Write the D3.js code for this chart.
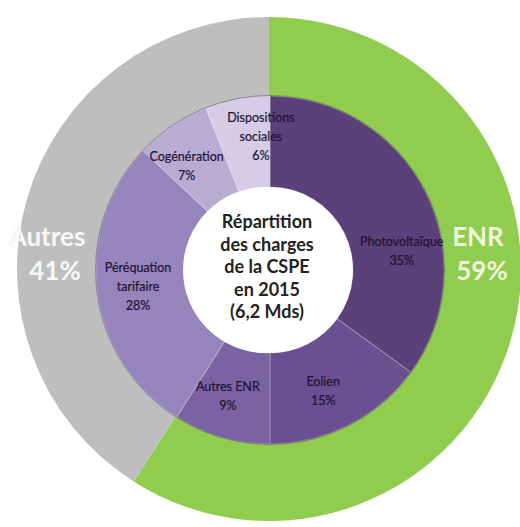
<!DOCTYPE html>
<html>
<head>
<meta charset="utf-8">
<script src="https://cdn.jsdelivr.net/npm/d3@7"></script>
<style>
  body { margin: 0; background: #fff; }
  svg { display: block; }
</style>
</head>
<body>
<div id="chart-area"></div>
<script>
// outer ring : ENR vs autres
var groups = ["ENR", "Autres"];
var groupValues = [59, 41];
var groupColors = ["#90cc4e", "#bebebe"];

// inner pie : detail of the charges
var parts = ["Photovoltaïque", "Eolien", "Autres ENR", "Péréquation tarifaire", "Cogénération", "Dispositions sociales"];
var partValues = [35, 15, 9, 28, 7, 6];
var partColors = ["#5b4079", "#6a5090", "#7a62a3", "#9684bc", "#b8acd2", "#d5cce5"];

// label lines for each part (break where the picture breaks)
var partLines = [["Photovoltaïque"], ["Eolien"], ["Autres ENR"], ["Péréquation", "tarifaire"], ["Cogénération"], ["Dispositions", "sociales"]];

var titleLines = ["Répartition", "des charges", "de la CSPE", "en 2015", "(6,2 Mds)"];

var width = 520, height = 527;
var cx = 269, cy = 269;

var svg = d3.select("#chart-area")
    .append("svg")
    .attr("width", width)
    .attr("height", height);

var pie = d3.pie().sort(null).value(function(d) { return d; });

// outer ring
var ringArc = d3.arc().innerRadius(170).outerRadius(252);
var ring = svg.append("g").attr("transform", "translate(" + cx + "," + cy + ")");
ring.selectAll("path")
    .data(pie(groupValues))
    .enter()
    .append("path")
    .attr("d", ringArc)
    .attr("fill", function(d, i) { return groupColors[i]; });

// inner pie
var partArc = d3.arc().innerRadius(83).outerRadius(174);
var inner = svg.append("g").attr("transform", "translate(" + (cx + 1) + "," + (cy + 1) + ")");
inner.selectAll("path")
    .data(pie(partValues))
    .enter()
    .append("path")
    .attr("d", partArc)
    .attr("fill", function(d, i) { return partColors[i]; })
    .attr("stroke", "rgba(255,255,255,0.25)")
    .attr("stroke-width", 1);
// thin shadow round the inner pie
inner.append("circle")
    .attr("r", 174.5)
    .attr("fill", "none")
    .attr("stroke", "#4b3b5e")
    .attr("stroke-opacity", 0.5)
    .attr("stroke-width", 1);

// white hole
inner.append("circle")
    .attr("cx", -4)
    .attr("r", 83)
    .attr("fill", "#fff");

// part labels
var labelR = 133;
var angleShift = [0.33, 0.06, 0.04, 0, -0.08, 0.12]; // radians, to sit like the picture
inner.selectAll("text.part")
    .data(pie(partValues))
    .enter()
    .append("text")
    .attr("class", "part")
    .attr("text-anchor", "middle")
    .attr("font-family", "Lato, 'Open Sans', sans-serif")
    .attr("font-size", "12.5px")
    .attr("fill", "#1e1236")
    .attr("stroke", "#1e1236")
    .attr("stroke-width", 0.2)
    .each(function(d, i) {
        var a = (d.startAngle + d.endAngle) / 2 + angleShift[i];
        var p = d3.pointRadial(a, labelR);
        var lines = partLines[i].concat([partValues[i] + "%"]);
        var t = d3.select(this);
        var y0 = p[1] - (lines.length - 1) * 19 / 2 + 4;
        lines.forEach(function(l, j) {
            t.append("tspan")
                .attr("x", p[0])
                .attr("y", y0 + j * 19)
                .text(l);
        });
    });

// ring labels
var ringLabels = svg.append("g")
    .attr("font-family", "Lato, 'Open Sans', sans-serif")
    .attr("font-weight", "bold")
    .attr("font-size", "26px")
    .attr("text-anchor", "middle");

ringLabels.append("text")
    .attr("x", 478).attr("y", 246)
    .attr("fill", "#eef6dc")
    .text(groups[0]);
ringLabels.append("text")
    .attr("x", 482).attr("y", 280)
    .attr("fill", "#eef6dc")
    .text(groupValues[0] + "%");
ringLabels.append("text")
    .attr("x", 47).attr("y", 246)
    .attr("fill", "#f7f7f7")
    .text(groups[1]);
ringLabels.append("text")
    .attr("x", 55).attr("y", 280)
    .attr("fill", "#f7f7f7")
    .text(groupValues[1] + "%");

// centre title
var title = svg.append("text")
    .attr("text-anchor", "middle")
    .attr("font-family", "Lato, 'Open Sans', sans-serif")
    .attr("font-weight", "bold")
    .attr("font-size", "18px")
    .attr("fill", "#222");
titleLines.forEach(function(l, j) {
    title.append("tspan")
        .attr("x", 267)
        .attr("y", 228 + j * 22.5)
        .text(l);
});
</script>
</body>
</html>
